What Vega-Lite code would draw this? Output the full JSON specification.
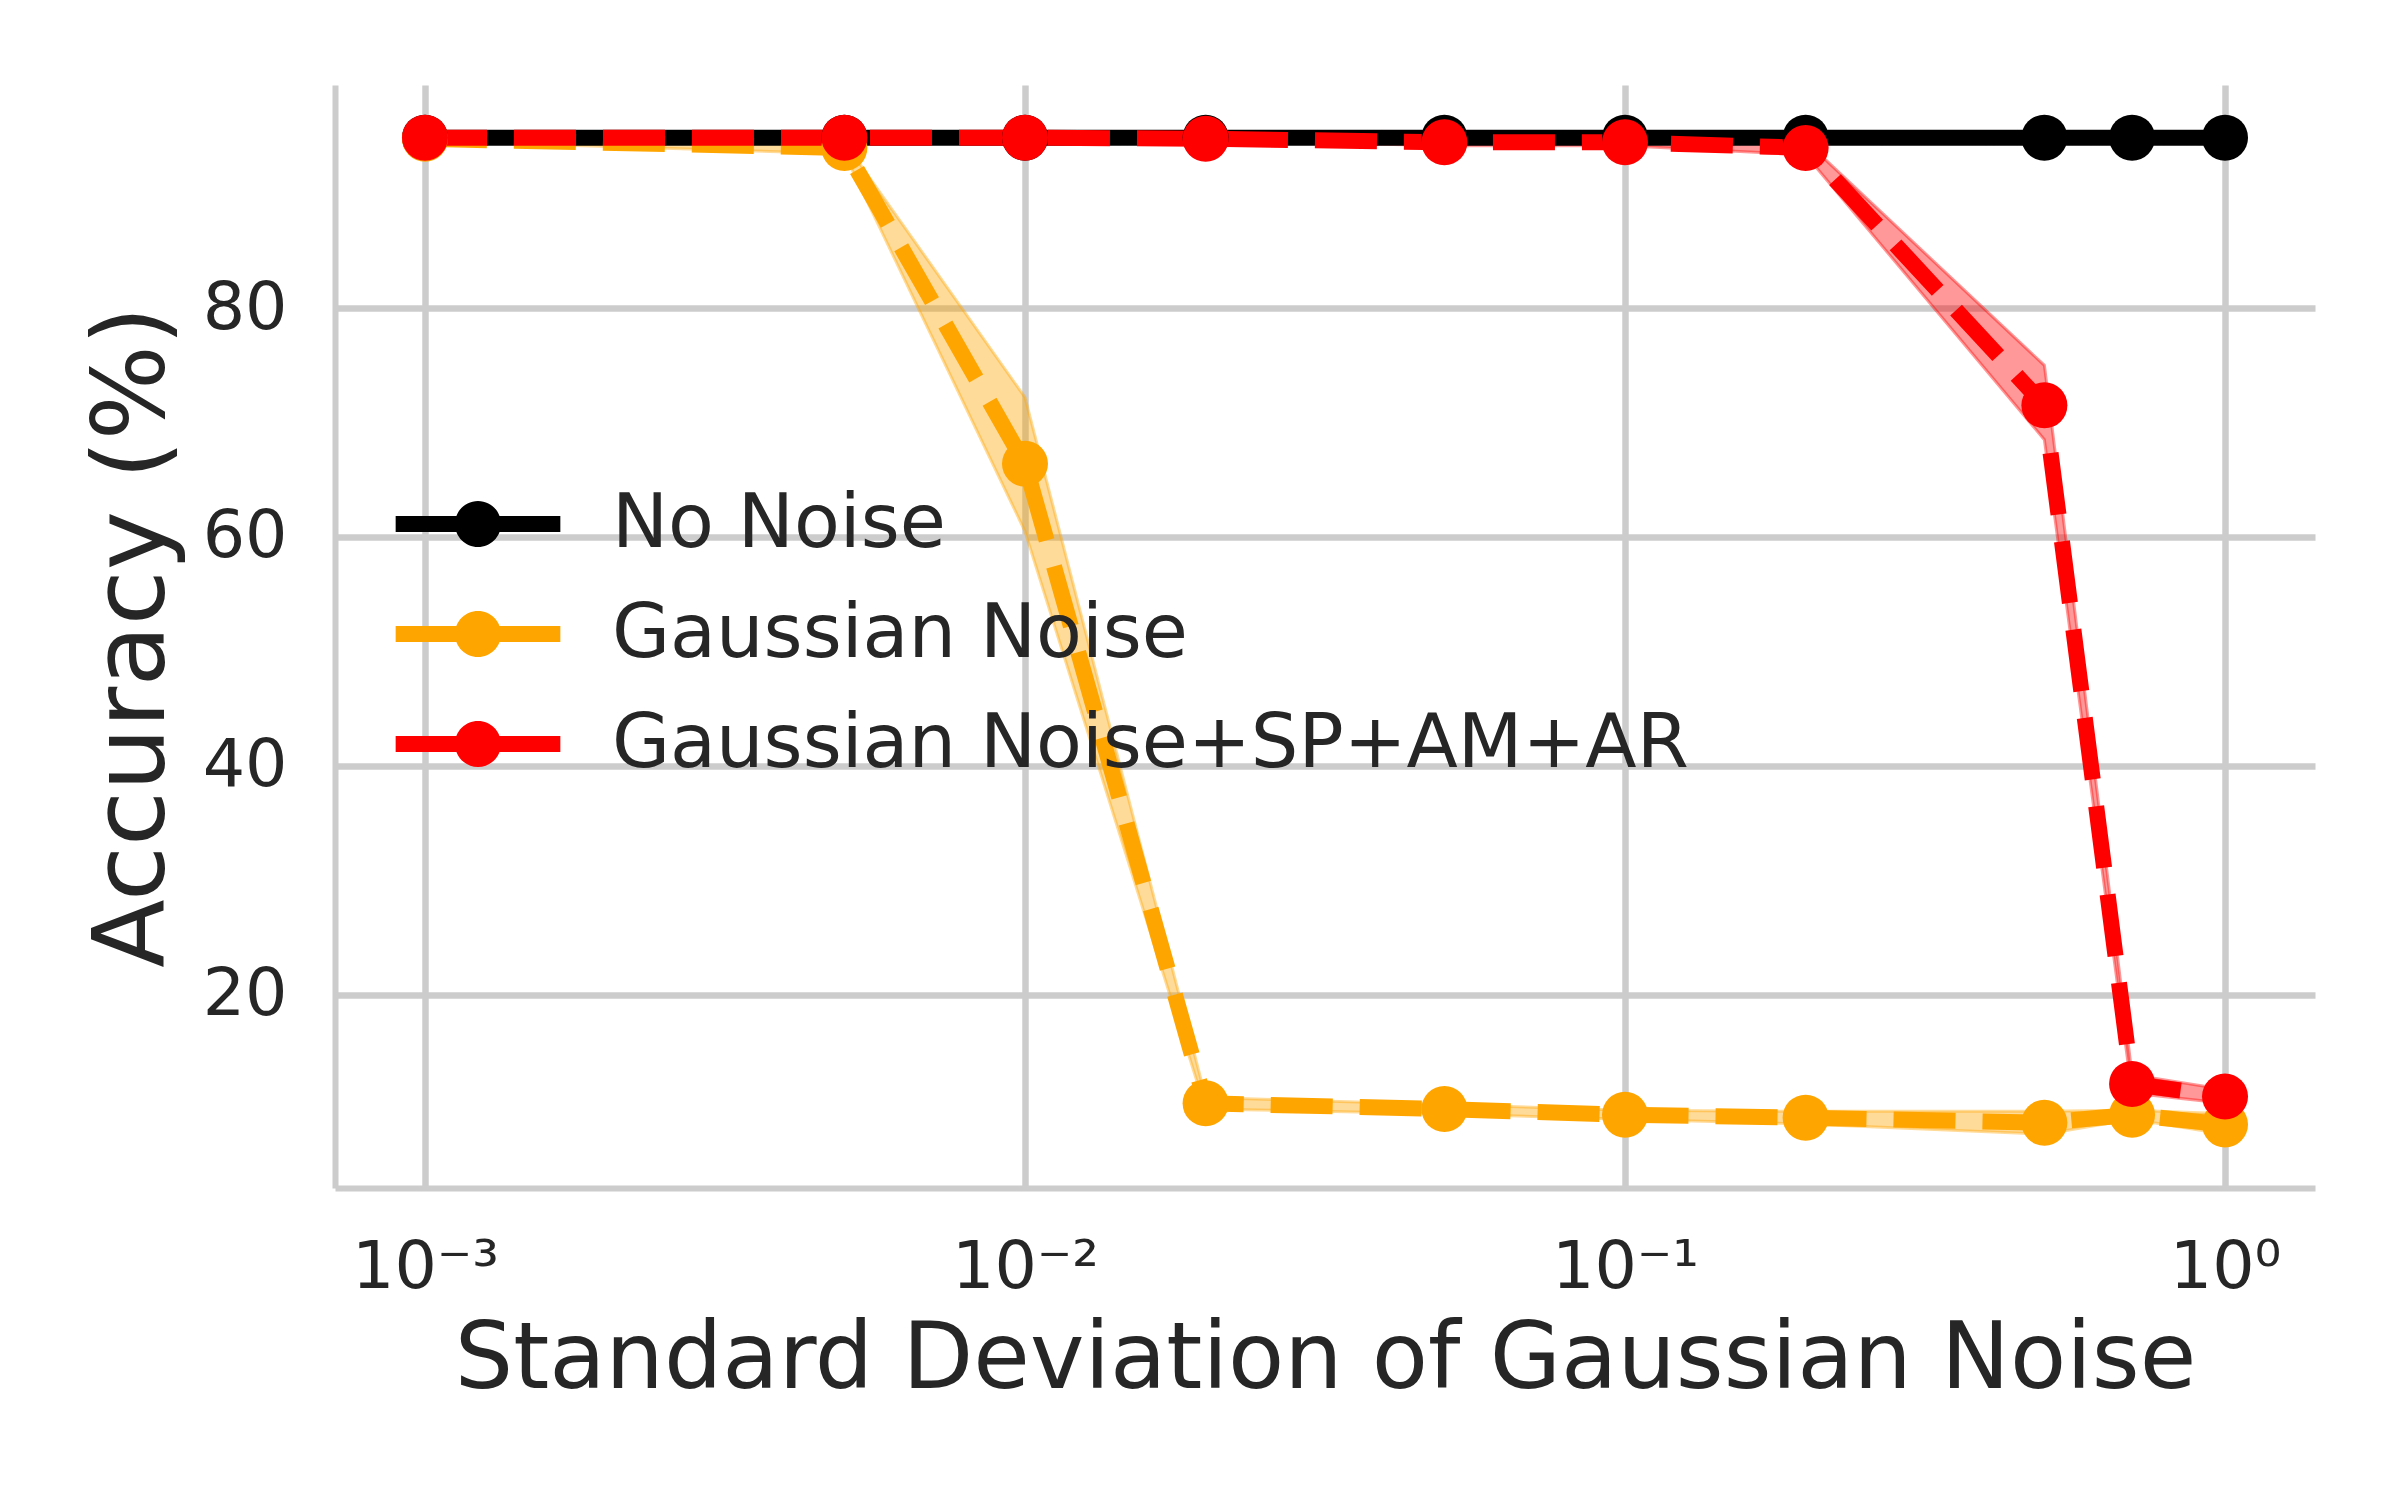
{
  "$schema": "https://vega.github.io/schema/vega-lite/v6.json",
  "background": "white",
  "autosize": {"type": "none"},
  "padding": {"left": 335, "top": 85, "right": 85, "bottom": 312},
  "width": 1980,
  "height": 1103,
  "data": {
    "values": [
      {"sigma": 0.001, "method": "No Noise", "acc": 94.9, "lo": 94.9, "hi": 94.9},
      {"sigma": 0.005, "method": "No Noise", "acc": 94.9, "lo": 94.9, "hi": 94.9},
      {"sigma": 0.01, "method": "No Noise", "acc": 94.9, "lo": 94.9, "hi": 94.9},
      {"sigma": 0.02, "method": "No Noise", "acc": 94.9, "lo": 94.9, "hi": 94.9},
      {"sigma": 0.05, "method": "No Noise", "acc": 94.9, "lo": 94.9, "hi": 94.9},
      {"sigma": 0.1, "method": "No Noise", "acc": 94.9, "lo": 94.9, "hi": 94.9},
      {"sigma": 0.2, "method": "No Noise", "acc": 94.9, "lo": 94.9, "hi": 94.9},
      {"sigma": 0.5, "method": "No Noise", "acc": 94.9, "lo": 94.9, "hi": 94.9},
      {"sigma": 0.7, "method": "No Noise", "acc": 94.9, "lo": 94.9, "hi": 94.9},
      {"sigma": 1.0, "method": "No Noise", "acc": 94.9, "lo": 94.9, "hi": 94.9},
      {"sigma": 0.001, "method": "Gaussian Noise", "acc": 94.8, "lo": 94.6, "hi": 95.0},
      {"sigma": 0.005, "method": "Gaussian Noise", "acc": 94.0, "lo": 93.5, "hi": 94.5},
      {"sigma": 0.01, "method": "Gaussian Noise", "acc": 66.4, "lo": 60.5, "hi": 72.2},
      {"sigma": 0.02, "method": "Gaussian Noise", "acc": 10.5, "lo": 10.0, "hi": 11.0},
      {"sigma": 0.05, "method": "Gaussian Noise", "acc": 10.0, "lo": 9.6, "hi": 10.4},
      {"sigma": 0.1, "method": "Gaussian Noise", "acc": 9.5, "lo": 9.1, "hi": 9.9},
      {"sigma": 0.2, "method": "Gaussian Noise", "acc": 9.25, "lo": 8.7, "hi": 9.8},
      {"sigma": 0.5, "method": "Gaussian Noise", "acc": 8.8, "lo": 7.8, "hi": 9.8},
      {"sigma": 0.7, "method": "Gaussian Noise", "acc": 9.5, "lo": 9.1, "hi": 9.9},
      {"sigma": 1.0, "method": "Gaussian Noise", "acc": 8.65, "lo": 7.8, "hi": 9.6},
      {"sigma": 0.001, "method": "Gaussian Noise+SP+AM+AR", "acc": 94.9, "lo": 94.8, "hi": 95.0},
      {"sigma": 0.005, "method": "Gaussian Noise+SP+AM+AR", "acc": 94.9, "lo": 94.8, "hi": 95.0},
      {"sigma": 0.01, "method": "Gaussian Noise+SP+AM+AR", "acc": 94.9, "lo": 94.8, "hi": 95.0},
      {"sigma": 0.02, "method": "Gaussian Noise+SP+AM+AR", "acc": 94.8, "lo": 94.7, "hi": 94.9},
      {"sigma": 0.05, "method": "Gaussian Noise+SP+AM+AR", "acc": 94.5, "lo": 94.2, "hi": 94.8},
      {"sigma": 0.1, "method": "Gaussian Noise+SP+AM+AR", "acc": 94.5, "lo": 94.2, "hi": 94.8},
      {"sigma": 0.2, "method": "Gaussian Noise+SP+AM+AR", "acc": 94.0, "lo": 93.4, "hi": 94.6},
      {"sigma": 0.5, "method": "Gaussian Noise+SP+AM+AR", "acc": 71.5, "lo": 68.5, "hi": 75.0},
      {"sigma": 0.7, "method": "Gaussian Noise+SP+AM+AR", "acc": 12.2, "lo": 11.4, "hi": 13.0},
      {"sigma": 1.0, "method": "Gaussian Noise+SP+AM+AR", "acc": 11.1, "lo": 10.5, "hi": 11.7}
    ]
  },
  "encoding": {
    "x": {
      "field": "sigma",
      "type": "quantitative",
      "title": "Standard Deviation of Gaussian Noise",
      "scale": {"type": "log", "domain": [0.000708, 1.4125], "nice": false},
      "axis": {
        "values": [0.001, 0.01, 0.1, 1],
        "labelExpr": "datum.value < 0.005 ? '10⁻³' : datum.value < 0.05 ? '10⁻²' : datum.value < 0.5 ? '10⁻¹' : '10⁰'",
        "labelPadding": 46,
        "titlePadding": 14,
        "titleFontSize": 92
      }
    }
  },
  "layer": [
    {
      "transform": [{"filter": "datum.method != 'No Noise'"}],
      "mark": {"type": "area", "fillOpacity": 0.4, "strokeOpacity": 0.4, "strokeWidth": 3},
      "encoding": {
        "y": {"field": "lo", "type": "quantitative"},
        "y2": {"field": "hi"},
        "color": {"field": "method", "type": "nominal",
          "scale": {"domain": ["No Noise", "Gaussian Noise", "Gaussian Noise+SP+AM+AR"], "range": ["#000000", "#FFA500", "#FF0000"]}},
        "stroke": {"field": "method", "type": "nominal", "legend": null,
          "scale": {"domain": ["No Noise", "Gaussian Noise", "Gaussian Noise+SP+AM+AR"], "range": ["#000000", "#FFA500", "#FF0000"]}}
      }
    },
    {
      "mark": {"type": "line", "strokeWidth": 16},
      "encoding": {
        "y": {"field": "acc", "type": "quantitative"},
        "color": {"field": "method", "type": "nominal"},
        "strokeDash": {"field": "method", "type": "nominal", "legend": null,
          "scale": {"domain": ["No Noise", "Gaussian Noise", "Gaussian Noise+SP+AM+AR"], "range": [[1, 0], [62, 27], [62, 27]]}}
      }
    },
    {
      "mark": {"type": "point", "filled": true, "shape": "circle", "size": 2116, "opacity": 1},
      "encoding": {
        "y": {
          "field": "acc",
          "type": "quantitative",
          "title": "Accuracy (%)",
          "scale": {"domain": [3.1, 99.5], "nice": false, "zero": false},
          "axis": {"values": [20, 40, 60, 80], "labelPadding": 48, "titlePadding": 18, "titleFontSize": 100}
        },
        "color": {
          "field": "method",
          "type": "nominal",
          "legend": {
            "title": null,
            "orient": "none",
            "legendX": 97,
            "legendY": 393,
            "symbolType": "M-1.79,-0.174H1.79V0.174H-1.79Z M0.5,0A0.5,0.5 0 1,1 -0.5,0A0.5,0.5 0 1,1 0.5,0Z",
            "symbolSize": 8464,
            "symbolStrokeWidth": 0,
            "symbolOpacity": 1,
            "labelOffset": 88,
            "rowPadding": 26,
            "labelFontSize": 75,
            "labelLimit": 2000
          }
        }
      }
    }
  ],
  "config": {
    "font": "DejaVu Sans",
    "view": {"stroke": null},
    "axis": {
      "grid": true,
      "gridColor": "#cccccc",
      "gridWidth": 6.5,
      "domainColor": "#cccccc",
      "domainWidth": 6,
      "ticks": false,
      "labelFontSize": 66.7,
      "labelColor": "#262626",
      "titleColor": "#262626",
      "titleFontWeight": "normal",
      "labelFlush": false,
      "labelOverlap": false
    },
    "legend": {"labelColor": "#262626", "labelFont": "DejaVu Sans"}
  }
}
